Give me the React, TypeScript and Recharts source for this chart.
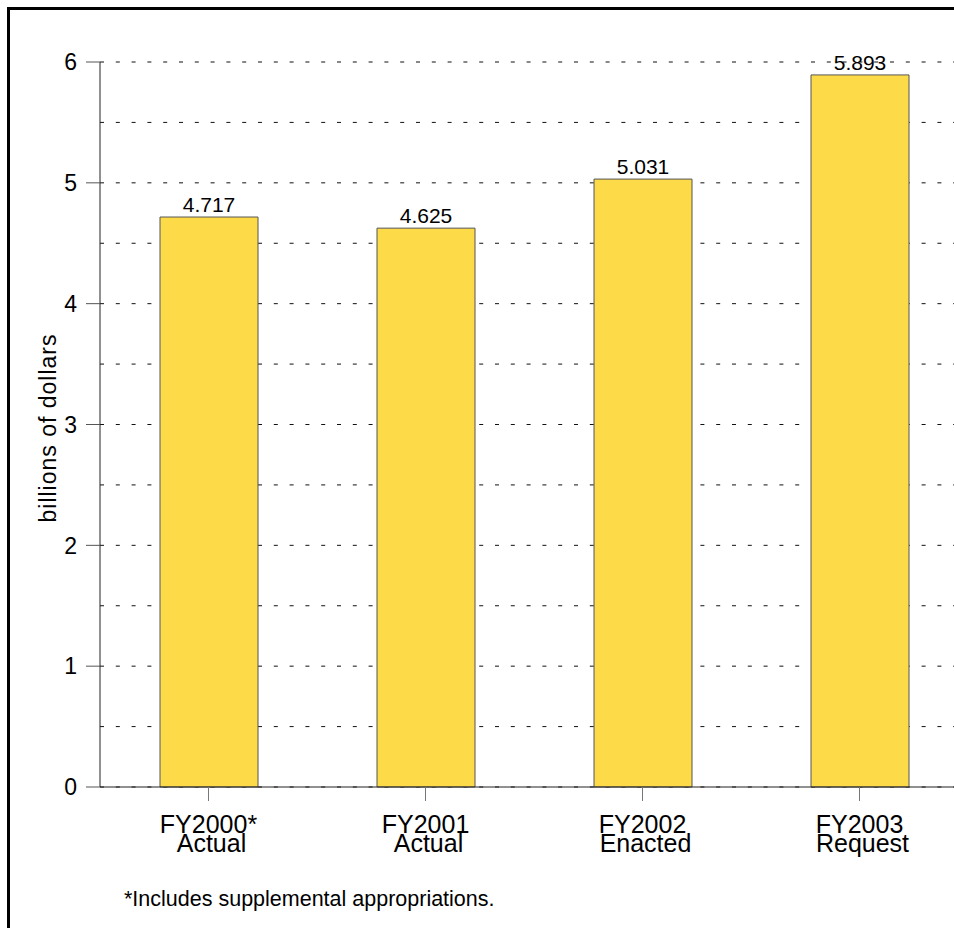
import React from 'react';
import { BarChart, Bar, XAxis, YAxis, CartesianGrid, LabelList } from 'recharts';

const categories = ['FY2000*', 'FY2001', 'FY2002', 'FY2003'];
const stages = ['Actual', 'Actual', 'Enacted', 'Request'];
const values = [4.717, 4.625, 5.031, 5.893];
const yTicks = [0, 0.5, 1, 1.5, 2, 2.5, 3, 3.5, 4, 4.5, 5, 5.5, 6];
const yAxisLabel = 'billions of dollars';
const footnote = '*Includes supplemental appropriations.';

const data = categories.map((name, i) => ({ name, stage: stages[i], value: values[i] }));

const FONT = '"Liberation Sans", Arial, Helvetica, sans-serif';

const YTick = ({ x, y, payload }: any) => {
  // only whole numbers get a label and a tick mark, halves are grid only
  if (!Number.isInteger(payload.value)) return null;
  return (
    <g>
      <line x1={x - 14} x2={x} y1={y} y2={y} stroke="#555" strokeWidth={1} />
      <text x={x - 23} y={y} dy="0.36em" textAnchor="end" fontSize={23} fill="#000" fontFamily={FONT}>
        {payload.value}
      </text>
    </g>
  );
};

const XTick = ({ x, y, payload }: any) => {
  const idx = categories.indexOf(payload.value);
  return (
    <g>
      <text x={x} y={y + 32} textAnchor="middle" fontSize={25} fill="#000" fontFamily={FONT}>
        {payload.value}
      </text>
      <text x={x + 3} y={y + 51} textAnchor="middle" fontSize={25} fill="#000" fontFamily={FONT}>
        {stages[idx]}
      </text>
    </g>
  );
};

const YLabel = () => (
  <text
    x={56}
    y={428}
    transform="rotate(-90, 56, 428)"
    textAnchor="middle"
    fontSize={23}
    letterSpacing={1}
    fill="#000"
    fontFamily={FONT}
  >
    {yAxisLabel}
  </text>
);

export default function App() {
  return (
    <div style={{ position: 'fixed', left: 0, top: 0, width: 954, height: 928, overflow: 'hidden', background: '#fff' }}>
      <div
        style={{
          position: 'absolute',
          left: 7,
          top: 7,
          width: 2000,
          height: 2000,
          borderLeft: '3px solid #000',
          borderTop: '3px solid #000',
        }}
      />
      <div style={{ position: 'absolute', left: 0, top: 0 }}>
        <BarChart
          width={968}
          height={928}
          data={data}
          margin={{ top: 62, right: 0, bottom: 61, left: 10 }}
        >
          <CartesianGrid vertical={false} stroke="#111" strokeDasharray="4 11.8" />
          <XAxis
            dataKey="name"
            height={80}
            axisLine={{ stroke: '#222' }}
            tickLine={{ stroke: '#777' }}
            tickSize={14}
            tickMargin={0}
            tick={<XTick />}
            interval={0}
          />
          <YAxis
            width={90}
            domain={[0, 6]}
            ticks={yTicks}
            interval={0}
            tickLine={false}
            tickSize={0}
            tickMargin={0}
            axisLine={{ stroke: '#222' }}
            tick={<YTick />}
            label={<YLabel />}
          />
          <Bar dataKey="value" fill="#FDDA48" stroke="#555" strokeWidth={1} barSize={98} isAnimationActive={false}>
            <LabelList dataKey="value" position="top" offset={5} fontSize={21} fill="#000" fontFamily={FONT} />
          </Bar>
        </BarChart>
      </div>
      <div
        style={{
          position: 'absolute',
          left: 124,
          top: 889,
          fontSize: 21.5,
          lineHeight: 1,
          fontFamily: FONT,
          color: '#000',
          whiteSpace: 'nowrap',
        }}
      >
        {footnote}
      </div>
    </div>
  );
}
